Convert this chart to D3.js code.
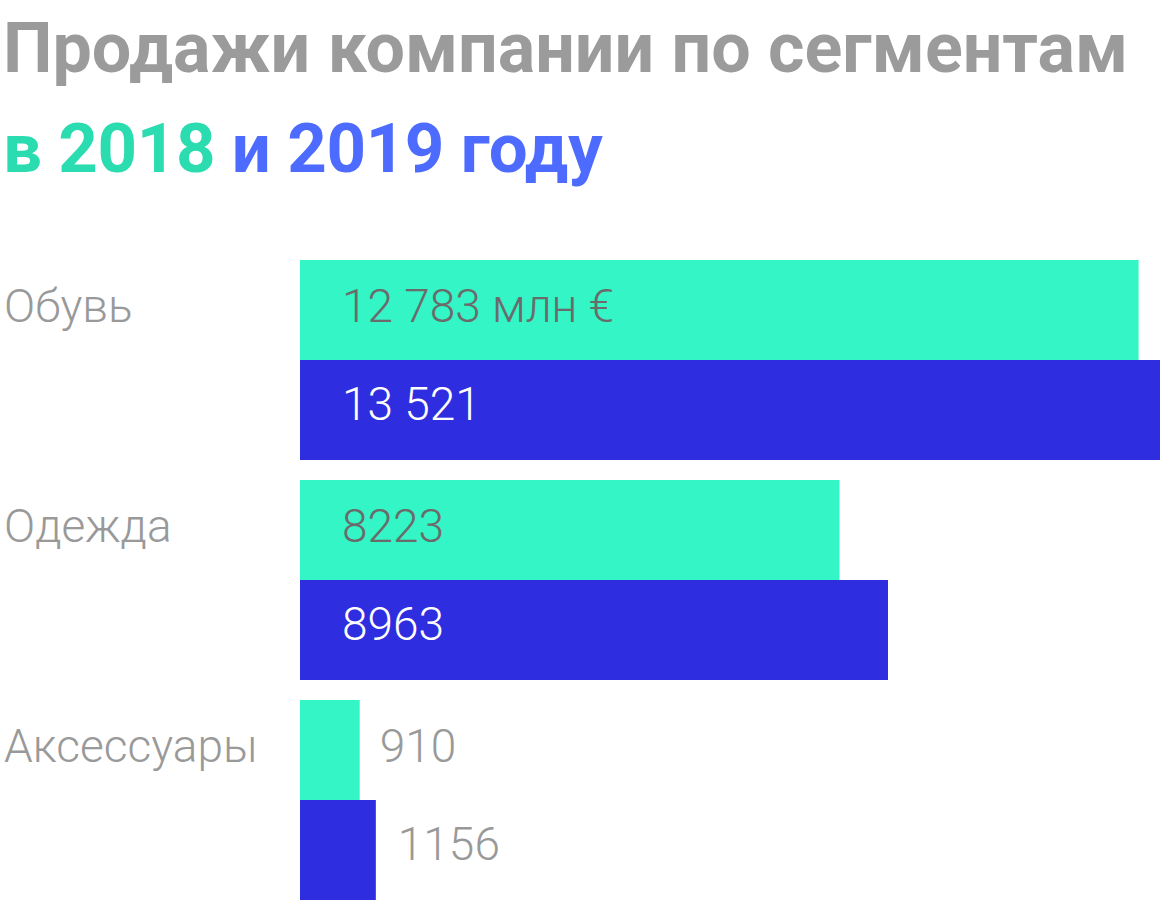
<!DOCTYPE html>
<html>
<head>
<meta charset="utf-8">
<script src="https://cdn.jsdelivr.net/npm/d3@7/dist/d3.min.js"></script>
<style>
  body { margin: 0; background: #fff; }
  svg { display: block; }
</style>
</head>
<body>
<div id="chart"></div>
<script>
const width = 1160;
const height = 904;

// data
const categories = ["Обувь", "Одежда", "Аксессуары"];
const sales2018 = [12783, 8223, 910];
const sales2019 = [13521, 8963, 1156];
const labels2018 = ["12 783 млн €", "8223", "910"];
const labels2019 = ["13 521", "8963", "1156"];

const teal = "#33f5c6";
const blue = "#2e2ee0";

const svg = d3.select("#chart")
    .append("svg")
    .attr("width", width)
    .attr("height", height);

// title
const title = svg.append("g").attr("font-family", "Roboto, sans-serif").attr("font-weight", 700);
title.append("text")
    .attr("x", 3).attr("y", 72)
    .attr("font-size", 70)
    .attr("fill", "#9b9b9b")
    .text("Продажи компании по сегментам");
const t2 = title.append("text")
    .attr("x", 3).attr("y", 172)
    .attr("font-size", 69)
    .attr("letter-spacing", -0.4);
t2.append("tspan").attr("fill", "#2bdcb0").text("в 2018 ");
t2.append("tspan").attr("fill", "#4d6bff").text("и 2019 году");

// scales
const x0 = 300;
const x = d3.scaleLinear()
    .domain([0, d3.max(sales2019)])
    .range([0, 887]);

const y = d3.scaleBand()
    .domain(categories)
    .range([260, 900])
    .paddingInner(0.0909)
    .paddingOuter(0);

const rows = categories.map((c, i) => ({
    cat: c,
    v18: sales2018[i], v19: sales2019[i],
    l18: labels2018[i], l19: labels2019[i]
}));

const g = svg.append("g").attr("font-family", "Roboto, sans-serif").attr("font-weight", 300);

const rowG = g.selectAll("g.row")
    .data(rows)
    .enter().append("g")
    .attr("class", "row")
    .attr("transform", d => `translate(0,${y(d.cat)})`);

const barH = y.bandwidth() / 2;

rowG.append("rect")
    .attr("x", x0).attr("y", 0)
    .attr("width", d => x(d.v18))
    .attr("height", barH)
    .attr("fill", teal);

rowG.append("rect")
    .attr("x", x0).attr("y", barH)
    .attr("width", d => x(d.v19))
    .attr("height", barH)
    .attr("fill", blue);

// category labels
rowG.append("text")
    .attr("x", 4).attr("y", 62)
    .attr("font-size", 46)
    .attr("fill", "#999")
    .text(d => d.cat);

// value labels: inside if bar is wide, outside otherwise
const inside = v => x(v) > 200;

rowG.append("text")
    .attr("x", d => inside(d.v18) ? x0 + 42 : x0 + x(d.v18) + 20)
    .attr("y", 62)
    .attr("font-size", 46)
    .attr("fill", d => inside(d.v18) ? "#6b6b6b" : "#999")
    .text(d => d.l18);

rowG.append("text")
    .attr("x", d => inside(d.v19) ? x0 + 42 : x0 + x(d.v19) + 22)
    .attr("y", barH + 60)
    .attr("font-size", 46)
    .attr("fill", d => inside(d.v19) ? "#fff" : "#999")
    .text(d => d.l19);
</script>
</body>
</html>
